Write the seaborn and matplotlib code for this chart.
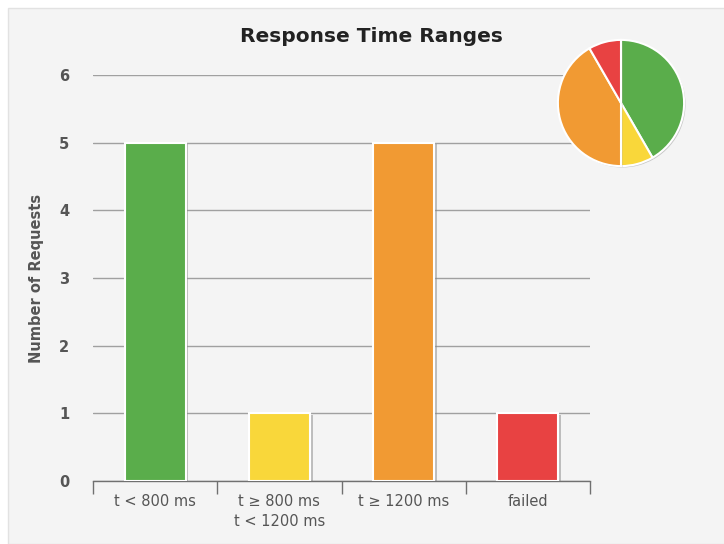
import matplotlib.pyplot as plt
import matplotlib.patheffects as pe
from matplotlib.patches import Rectangle
import seaborn as sns
import pandas as pd
import numpy as np

# data
ranges = ['t < 800 ms', 't ≥ 800 ms\nt < 1200 ms', 't ≥ 1200 ms', 'failed']
counts = [5, 1, 5, 1]
colors = ['#5aad4b', '#f9d73a', '#f19a33', '#e84242']
y_ticks = [0, 1, 2, 3, 4, 5, 6]

df = pd.DataFrame({'range': ranges, 'count': counts})

sns.set_theme(style='white')
plt.rcParams['font.family'] = ['DejaVu Sans']

fig = plt.figure(figsize=(7.24, 5.44), dpi=100)
fig.patch.set_facecolor('white')
# light gray panel behind everything
fig.patches.append(Rectangle((8 / 724, 0), 1, 1 - 8 / 544, transform=fig.transFigure,
                             facecolor='#f4f4f4', edgecolor='#e2e2e2', lw=1, zorder=-10))

ax = fig.add_axes([93 / 724, 63 / 544, 497 / 724, 406 / 544])
ax.set_facecolor('none')
sns.barplot(data=df, x='range', y='count', hue='range', palette=colors, legend=False,
            saturation=1, width=0.49, edgecolor='white', linewidth=1.5, ax=ax, zorder=3)
shadow = [pe.SimplePatchShadow(offset=(2, -1), shadow_rgbFace='#888888', alpha=0.5), pe.Normal()]
for p in ax.patches:
    p.set_path_effects(shadow)

ax.set_ylim(0, 6)
ax.set_xlim(-0.5, 3.5)
ax.set_yticks(y_ticks)
ax.yaxis.grid(True, color='#a0a0a0', lw=1)
ax.set_axisbelow(True)
for s in ['top', 'right', 'left']:
    ax.spines[s].set_visible(False)
ax.spines['bottom'].set_color('#707070')
ax.spines['bottom'].set_linewidth(1)

ax.set_xticks(np.arange(-0.5, 4, 1), minor=True)
ax.tick_params(axis='x', which='minor', length=9.5, width=1, color='#707070', direction='out', bottom=True)
ax.tick_params(axis='x', which='major', length=0, labelsize=10.5, labelcolor='#555555', pad=9)
ax.tick_params(axis='y', length=0, labelsize=10.5, labelcolor='#555555', pad=17)
for t in ax.get_yticklabels():
    t.set_fontweight('bold')
for t in ax.get_xticklabels():
    t.set_linespacing(1.45)
ax.set_xlabel('')
ax.set_ylabel('Number of Requests', fontsize=10.5, fontweight='bold', color='#555555', labelpad=11)

fig.text(371 / 724, 1 - 36 / 544, 'Response Time Ranges', ha='center', va='center',
         fontsize=14.5, fontweight='bold', color='#222222')

# small pie in the top right
pax = fig.add_axes([556 / 724, 1 - 168 / 544, 130 / 724, 130 / 544])
wedges, _ = pax.pie(counts, colors=colors, startangle=90, counterclock=False,
                    wedgeprops=dict(edgecolor='white', linewidth=1.5))
for w in wedges:
    w.set_path_effects([pe.SimplePatchShadow(offset=(1, -1), shadow_rgbFace='#999999', alpha=0.5), pe.Normal()])
pax.set_xlim(-1.03, 1.03)
pax.set_ylim(-1.03, 1.03)
pax.set_aspect('equal')

fig.savefig('out.png', dpi=100)
